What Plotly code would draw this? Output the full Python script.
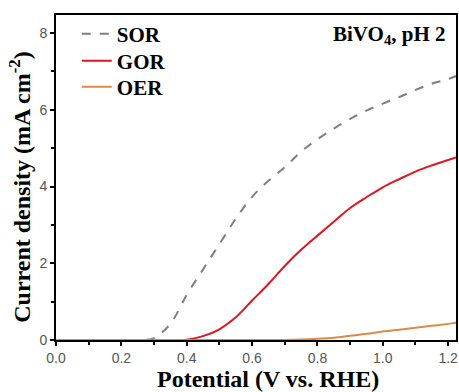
import plotly.graph_objects as go

# Data
x_sor = [0.0, 0.1, 0.2, 0.27, 0.3, 0.35, 0.4, 0.45, 0.5, 0.55, 0.6, 0.65, 0.7, 0.75, 0.8, 0.85, 0.9, 0.95, 1.0, 1.05, 1.1, 1.15, 1.2, 1.225]
y_sor = [0.0, 0.0, 0.0, 0.0, 0.05, 0.42, 1.18, 1.84, 2.5, 3.16, 3.73, 4.15, 4.5, 4.91, 5.23, 5.51, 5.76, 5.98, 6.16, 6.33, 6.52, 6.68, 6.8, 6.88]

x_gor = [0.0, 0.1, 0.2, 0.3, 0.38, 0.4, 0.45, 0.5, 0.55, 0.6, 0.65, 0.7, 0.75, 0.8, 0.85, 0.9, 0.95, 1.0, 1.05, 1.1, 1.15, 1.2, 1.225]
y_gor = [0.0, 0.0, 0.0, 0.0, 0.0, 0.01, 0.1, 0.28, 0.59, 1.03, 1.46, 1.93, 2.35, 2.72, 3.08, 3.44, 3.72, 3.98, 4.19, 4.39, 4.55, 4.69, 4.76]

x_oer = [0.0, 0.2, 0.4, 0.6, 0.7, 0.75, 0.8, 0.85, 0.9, 0.95, 1.0, 1.05, 1.1, 1.15, 1.2, 1.225]
y_oer = [0.0, 0.0, 0.0, 0.0, 0.0, 0.01, 0.03, 0.06, 0.11, 0.16, 0.22, 0.27, 0.32, 0.37, 0.42, 0.45]

x_ticks = [0.0, 0.2, 0.4, 0.6, 0.8, 1.0, 1.2]
y_ticks = [0, 2, 4, 6, 8]

serif = "Liberation Serif"
sans = "Liberation Sans"

fig = go.Figure()
fig.add_trace(go.Scatter(x=x_sor, y=y_sor, mode="lines", name="SOR", line_shape="spline", legend="legend",
                         line=dict(color="#7f7f7f", width=2, dash="dash")))
fig.add_trace(go.Scatter(x=x_gor, y=y_gor, mode="lines", name="GOR", line_shape="spline", legend="legend2",
                         line=dict(color="#e0141e", width=2)))
fig.add_trace(go.Scatter(x=x_oer, y=y_oer, mode="lines", name="OER", line_shape="spline", legend="legend3",
                         line=dict(color="#dc8a48", width=2)))

axis_common = dict(
    showline=True, linecolor="black", linewidth=2, mirror=True,
    ticks="outside", ticklen=4, tickwidth=1.5, tickcolor="black",
    showgrid=False, zeroline=False,
    tickfont=dict(family=sans, size=14, color="#555555"),
)

fig.update_xaxes(range=[0, 1.224], tickvals=x_ticks, ticktext=[f"{v:.1f}" for v in x_ticks],
                 minor=dict(ticks="outside", ticklen=3, tickcolor="black", dtick=0.1, tick0=0),
                 **axis_common)
fig.update_yaxes(range=[0, 8.47], tickvals=y_ticks, ticktext=[str(v) for v in y_ticks],
                 minor=dict(ticks="outside", ticklen=3, tickcolor="black", dtick=1, tick0=0),
                 **axis_common)

legend_font = dict(family=serif, size=21, color="black", weight="bold")
def leg(y):
    return dict(x=0.052, y=y, xanchor="left", yanchor="middle", bgcolor="rgba(0,0,0,0)",
                font=legend_font)

fig.update_layout(
    width=459, height=392,
    margin=dict(l=56, r=1, t=15, b=52),
    plot_bgcolor="white", paper_bgcolor="white",
    showlegend=True,
    legend=leg(0.9415),
    legend2=leg(0.858),
    legend3=leg(0.778),
    annotations=[
        dict(text="BiVO<sub>4</sub>, pH 2", xref="paper", yref="paper", x=0.980, y=0.985,
             xanchor="right", yanchor="top", showarrow=False,
             font=dict(family=serif, size=21, color="black", weight="bold")),
        dict(text="Potential (V vs. RHE)", xref="paper", yref="paper", x=0.529, y=-0.074,
             xanchor="center", yanchor="top", showarrow=False,
             font=dict(family=serif, size=24, color="black", weight="bold")),
        dict(text="Current density (mA cm<sup>-2</sup>)", xref="paper", yref="paper", x=-0.092, y=0.472,
             xanchor="center", yanchor="middle", showarrow=False, textangle=-90,
             font=dict(family=serif, size=24, color="black", weight="bold")),
    ],
)

fig.write_html("out.html")
